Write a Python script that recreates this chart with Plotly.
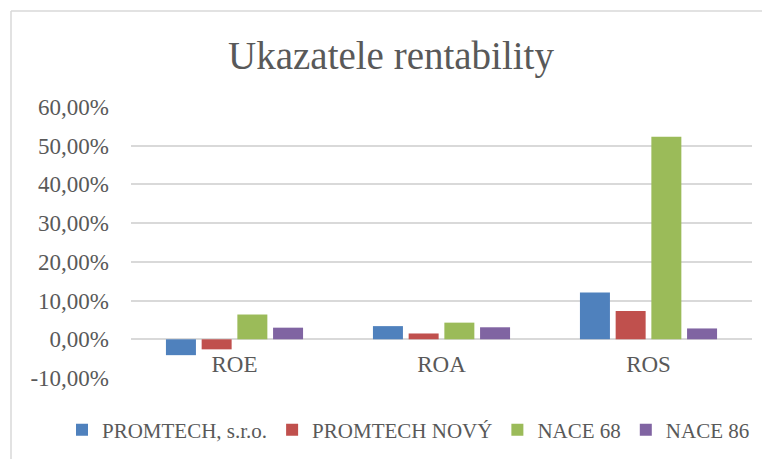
import plotly.graph_objects as go

# indicators on the x axis
categories = ["ROE", "ROA", "ROS"]

# values in percent
promtech_sro = [-4.1, 3.4, 12.1]
promtech_novy = [-2.6, 1.5, 7.3]
nace_68 = [6.4, 4.3, 52.3]
nace_86 = [3.0, 3.1, 2.8]

series_names = ["PROMTECH, s.r.o.", "PROMTECH NOVÝ", "NACE 68", "NACE 86"]
series_values = [promtech_sro, promtech_novy, nace_68, nace_86]
colors = ["#4F81BD", "#C0504D", "#9BBB59", "#8064A2"]

y_ticks = [-10, 0, 10, 20, 30, 40, 50, 60]
y_tick_labels = ["-10,00%", "0,00%", "10,00%", "20,00%", "30,00%", "40,00%", "50,00%", "60,00%"]

FONT = "Liberation Serif"
GRAY = "#595959"

# the page body keeps its default 8px margin, so the figure is sized to the visible area
W, H = 762, 451
L, R, T, B = 123, 18, 99, 81
PW, PH = W - L - R, H - T - B

fig = go.Figure()
for name, vals, col in zip(series_names, series_values, colors):
    fig.add_trace(go.Bar(x=categories, y=vals, name=name,
                         marker=dict(color=col, line=dict(width=0))))

fig.update_layout(
    width=W, height=H,
    margin=dict(l=L, r=R, t=T, b=B, autoexpand=False),
    paper_bgcolor="white", plot_bgcolor="white",
    font=dict(family=FONT, size=23, color=GRAY),
    title=dict(text="Ukazatele rentability", x=383 / W, xanchor="center",
               y=1 - 47 / H, yanchor="middle",
               font=dict(family=FONT, size=39, color=GRAY)),
    barmode="group", bargap=0.31, bargroupgap=0.16,
    showlegend=True,
    legend=dict(orientation="h", x=(54 - L) / PW, xanchor="left",
                y=(PH + T - 422) / PH, yanchor="middle",
                font=dict(family=FONT, size=21, color=GRAY),
                itemwidth=30, tracegroupgap=0, traceorder="normal"),
)

# category labels sit right under the 0 % line, like in the original
fig.update_xaxes(showgrid=False, showline=False, ticks="",
                 anchor="free", position=10 / 70, ticklabelstandoff=9,
                 tickfont=dict(family=FONT, size=23, color=GRAY))
fig.update_yaxes(range=[-10, 60], tickvals=y_ticks, ticktext=y_tick_labels,
                 showgrid=True, gridcolor="#d9d9d9", gridwidth=1.5,
                 zeroline=True, zerolinecolor="#d9d9d9", zerolinewidth=1.5,
                 showline=False, ticks="", ticklabelstandoff=21,
                 tickfont=dict(family=FONT, size=23, color=GRAY))

# chart area border (left and top edges visible in the picture)
bx = (3 - L) / PW
by = 1 + (T - 3) / PH
fig.add_shape(type="line", xref="paper", yref="paper",
              x0=bx, x1=bx, y0=-1, y1=by,
              line=dict(color="#d9d9d9", width=1.5))
fig.add_shape(type="line", xref="paper", yref="paper",
              x0=bx, x1=1.2, y0=by, y1=by,
              line=dict(color="#d9d9d9", width=1.5))

fig.write_html("out.html")
